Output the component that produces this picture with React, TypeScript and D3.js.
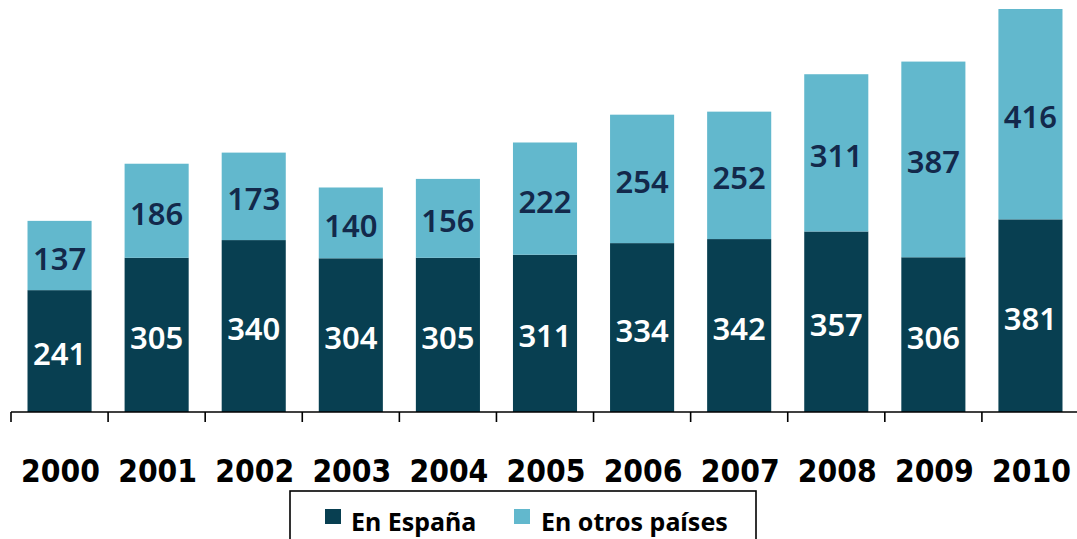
import React from "react";
import * as d3 from "d3";

const years = ["2000", "2001", "2002", "2003", "2004", "2005", "2006", "2007", "2008", "2009", "2010"];
const espana = [241, 305, 340, 304, 305, 311, 334, 342, 357, 306, 381];
const otros = [137, 186, 173, 140, 156, 222, 254, 252, 311, 387, 416];
const seriesNames = ["En España", "En otros países"];

const W = 1077;
const H = 539;
const DARK = "#083f51";
const LIGHT = "#62b8cd";
const NAVY = "#13294b";

export default function App() {
  const totals = years.map((_, i) => espana[i] + otros[i]);
  const x = d3.scaleBand<string>().domain(years).range([11, 1079]).paddingInner(0.34).paddingOuter(0.17);
  const y = d3.scaleLinear().domain([0, d3.max(totals) as number]).range([412, 9]);
  const step = x.step();
  const x0 = x.range()[0];
  const labelFont = "'Noto Sans', sans-serif";

  return (
    <svg width={W} height={H} style={{ position: "absolute", left: 0, top: 0, background: "#fff" }}>
      {years.map((yr, i) => {
        const bx = x(yr) as number;
        const bw = x.bandwidth();
        const yE = y(espana[i]);
        const yT = y(espana[i] + otros[i]);
        return (
          <g key={yr}>
            <rect x={bx} y={yE} width={bw} height={y(0) - yE} fill={DARK} />
            <rect x={bx} y={yT} width={bw} height={yE - yT} fill={LIGHT} />
            <text x={bx + bw / 2} y={(yE + y(0)) / 2 + 2} textAnchor="middle" dominantBaseline="central"
              fontFamily={labelFont} fontWeight={600} fontSize={31} fill="#fff">{espana[i]}</text>
            <text x={bx + bw / 2} y={(yT + yE) / 2 + 2} textAnchor="middle" dominantBaseline="central"
              fontFamily={labelFont} fontWeight={600} fontSize={31} fill={NAVY}>{otros[i]}</text>
            <text x={bx + bw / 2 + 1} y={482} textAnchor="middle"
              fontFamily="'DejaVu Sans Condensed', 'DejaVu Sans', sans-serif" fontWeight={700} fontSize={31.5} fill="#000">{yr}</text>
          </g>
        );
      })}
      <line x1={x0} x2={W} y1={y(0)} y2={y(0)} stroke="#000" strokeWidth={1.6} />
      {d3.range(years.length + 1).map((i) => (
        <line key={i} x1={x0 + i * step} x2={x0 + i * step} y1={y(0)} y2={y(0) + 10} stroke="#000" strokeWidth={1.6} />
      ))}
      <rect x={290} y={491} width={466} height={70} fill="none" stroke="#000" strokeWidth={1.6} />
      <rect x={325} y={509} width={16} height={15} fill={DARK} />
      <text x={351} y={531} fontFamily={labelFont} fontWeight={700} fontSize={25} fill="#000">{seriesNames[0]}</text>
      <rect x={514} y={509} width={16} height={15} fill={LIGHT} />
      <text x={541} y={531} fontFamily={labelFont} fontWeight={700} fontSize={25} fill="#000">{seriesNames[1]}</text>
    </svg>
  );
}
